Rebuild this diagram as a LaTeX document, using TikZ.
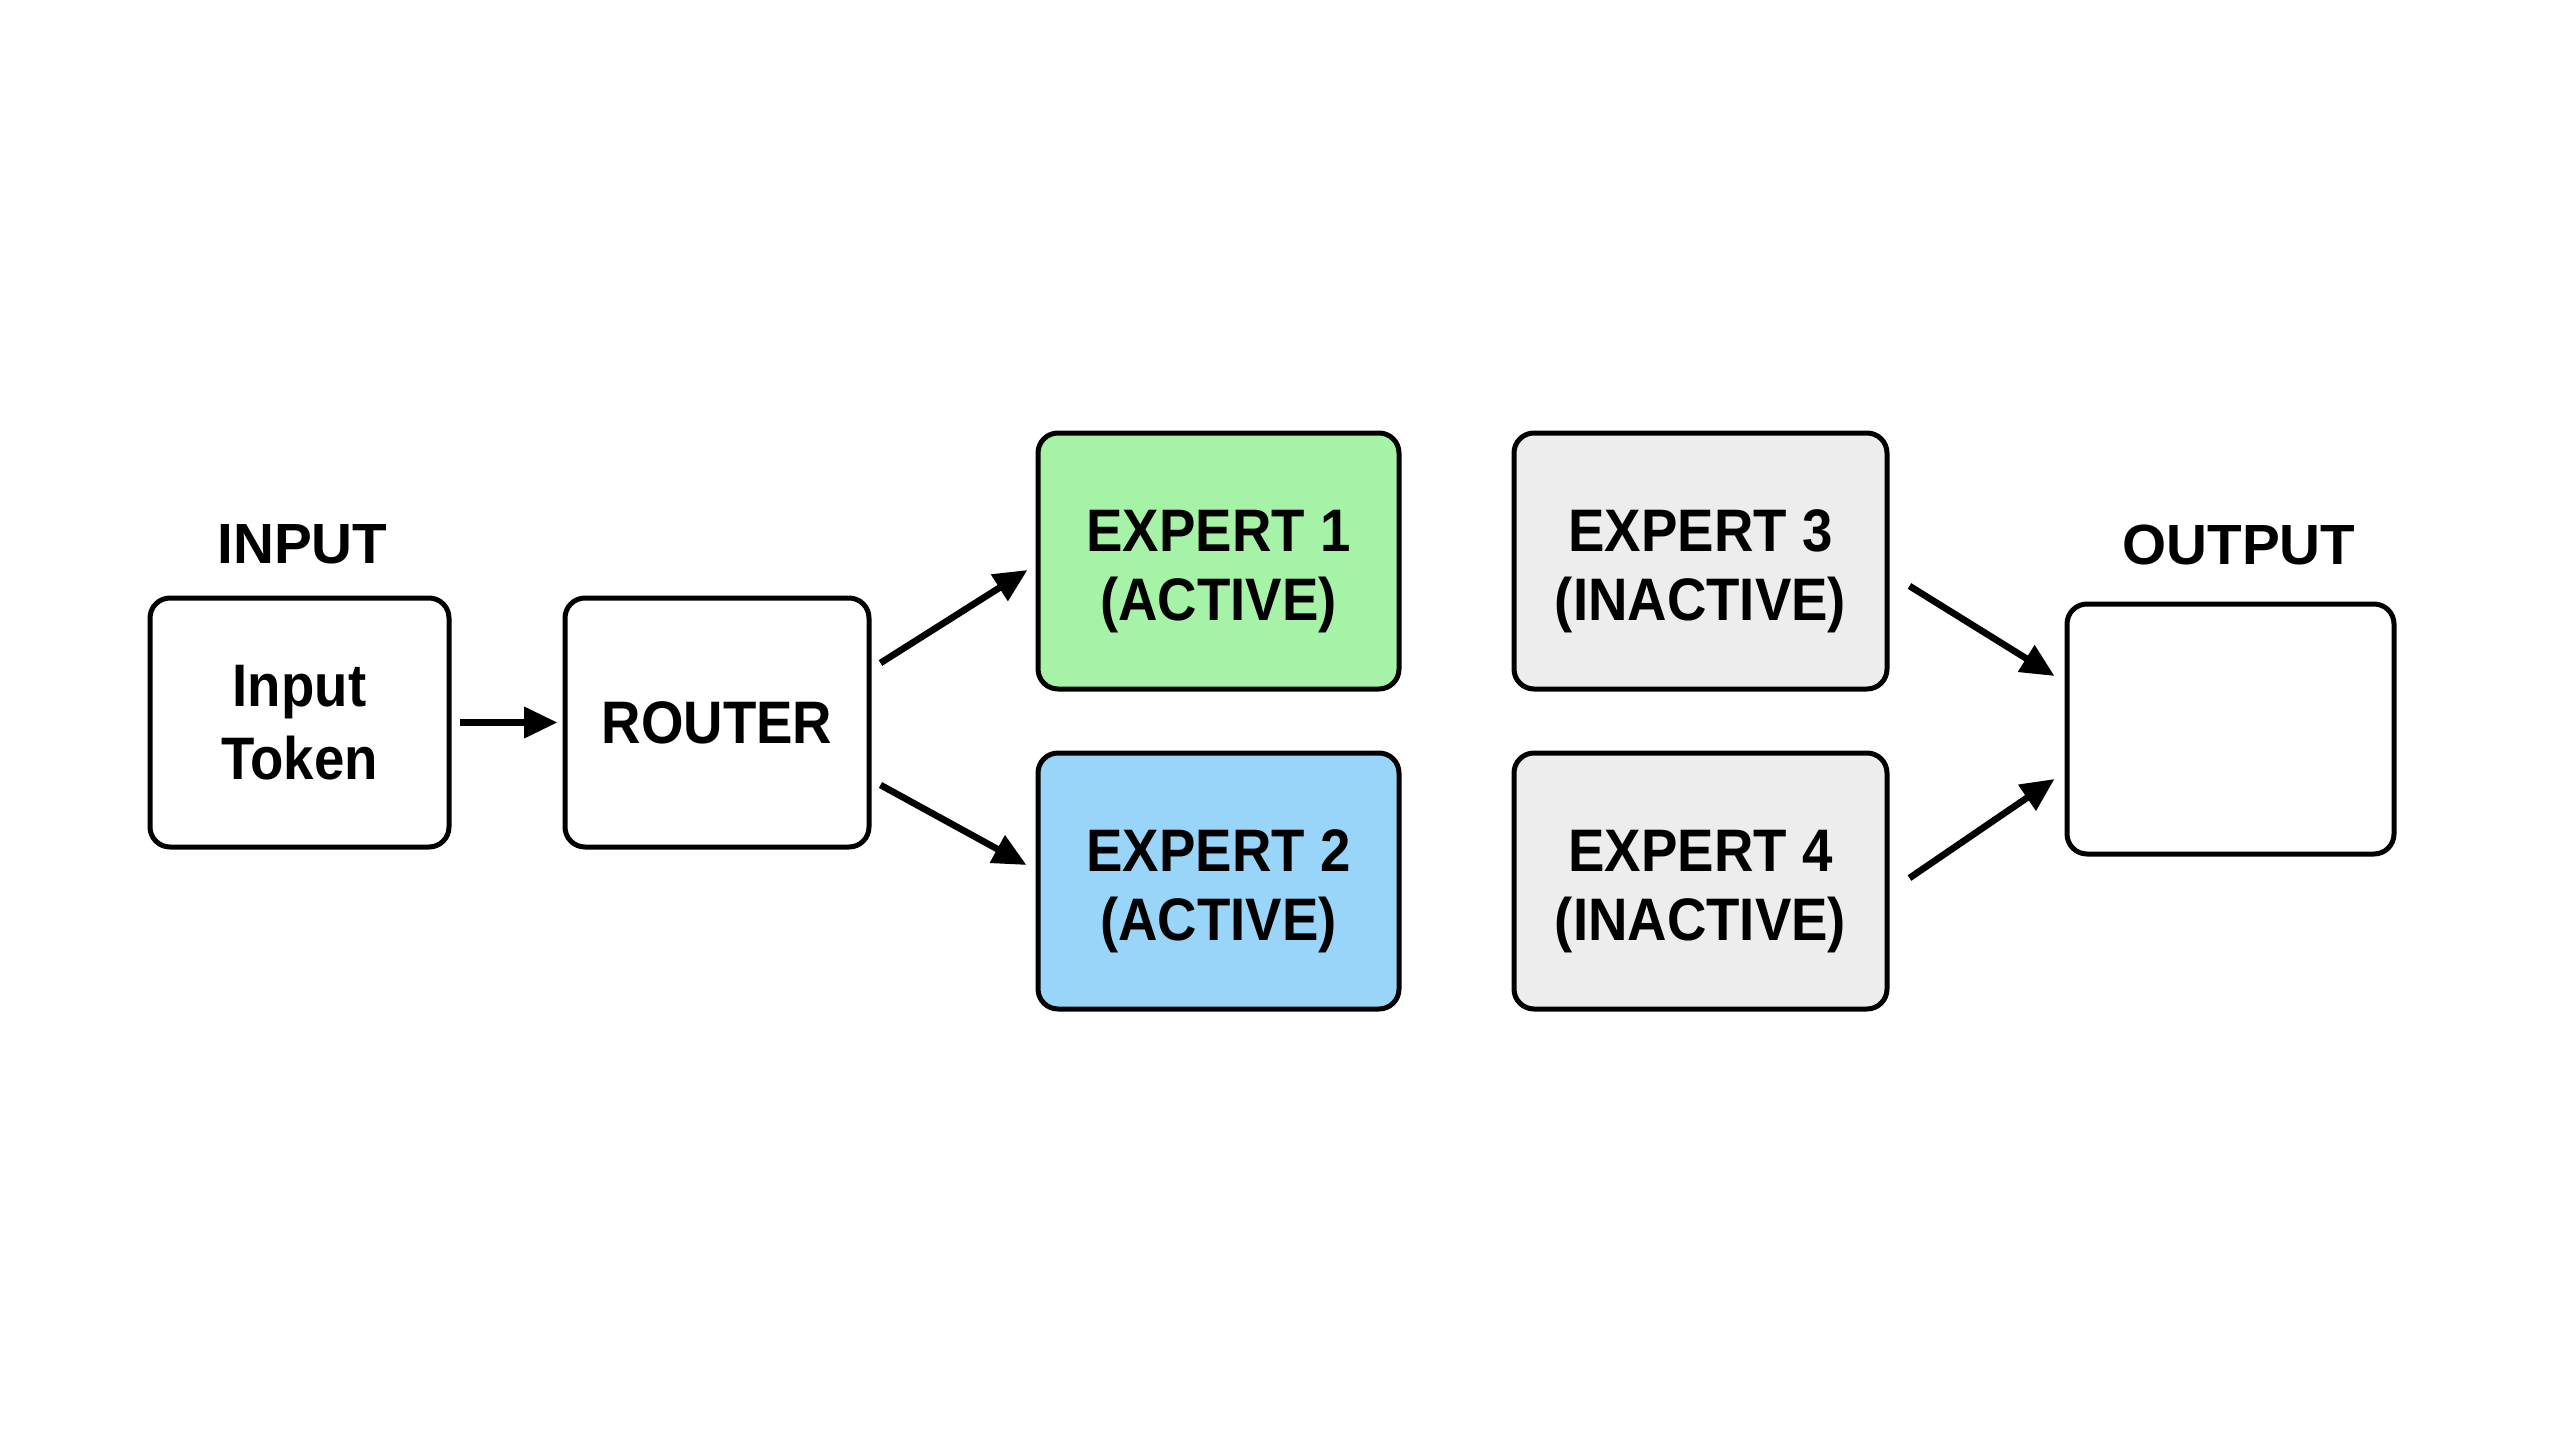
\documentclass[tikz,border=0pt]{standalone}
\usepackage{fontspec}
\setmainfont{Liberation Sans}[FakeStretch=0.91]
\newfontfamily\labfont{Liberation Sans}
\usetikzlibrary{arrows.meta}
\definecolor{actgreen}{HTML}{A6F2A6}
\definecolor{actblue}{HTML}{99D5F9}
\definecolor{inactgrey}{HTML}{EDEDED}
\newcommand{\twolines}[2]{\raisebox{-3.35pt}[\height][\depth]{\begin{tabular}{@{}c@{}}#1\\#2\end{tabular}}}
\tikzset{
  boxbase/.style={draw=black, line width=1.5pt, rounded corners=6pt, inner sep=0pt},
  box/.style={boxbase, align=center, font=\fontsize{18}{22}\selectfont\bfseries},
  expert/.style={boxbase, minimum height=76.8pt, font=\fontsize{18}{20.5}\selectfont\bfseries},
  lab/.style={font=\labfont\fontsize{17}{20}\selectfont\bfseries},
  conn/.style={line width=2pt, -{Triangle[length=10pt,width=9pt]}}
}
\begin{document}
\begin{tikzpicture}[x=0.3pt,y=-0.3pt]
\useasboundingbox[fill=white] (0,0) rectangle (2560,1440);
\node[box, minimum width=89.7pt, minimum height=74.7pt] (inp) at (299.5,722.5) {Input\\Token};
\node[box, minimum width=91.2pt, minimum height=74.7pt] (router) at (717,722.5) {ROUTER};
\node[expert, fill=actgreen, minimum width=108.3pt] (e1) at (1218.5,561) {\twolines{EXPERT 1}{(ACTIVE)}};
\node[expert, fill=actblue, minimum width=108.3pt] (e2) at (1218.5,881) {\twolines{EXPERT 2}{(ACTIVE)}};
\node[expert, fill=inactgrey, minimum width=111.9pt] (e3) at (1700.5,561) {\twolines{EXPERT 3}{(INACTIVE)}};
\node[expert, fill=inactgrey, minimum width=111.9pt] (e4) at (1700.5,881) {\twolines{EXPERT 4}{(INACTIVE)}};
\node[box, minimum width=98.1pt, minimum height=75pt] (out) at (2230.5,729) {};
\node[lab] (inlab) at (302.5,544) {INPUT};
\node[lab] (outlab) at (2239,545) {OUTPUT};
\draw[conn] ([xshift=2.4pt]inp.east) -- ([xshift=-1.5pt]router.west);
\draw[conn] ([xshift=2.7pt,yshift=17.85pt]router.east) -- ([xshift=-2.4pt,yshift=-2.7pt]e1.west);
\draw[conn] ([xshift=2.7pt,yshift=-18.75pt]router.east) -- ([xshift=-2.7pt,yshift=4.8pt]e2.west);
\draw[conn] ([xshift=6pt,yshift=-7.5pt]e3.east) -- ([xshift=-3pt,yshift=15.9pt]out.west);
\draw[conn] ([xshift=6pt,yshift=0.9pt]e4.east) -- ([xshift=-3pt,yshift=-15pt]out.west);
\end{tikzpicture}
\end{document}
